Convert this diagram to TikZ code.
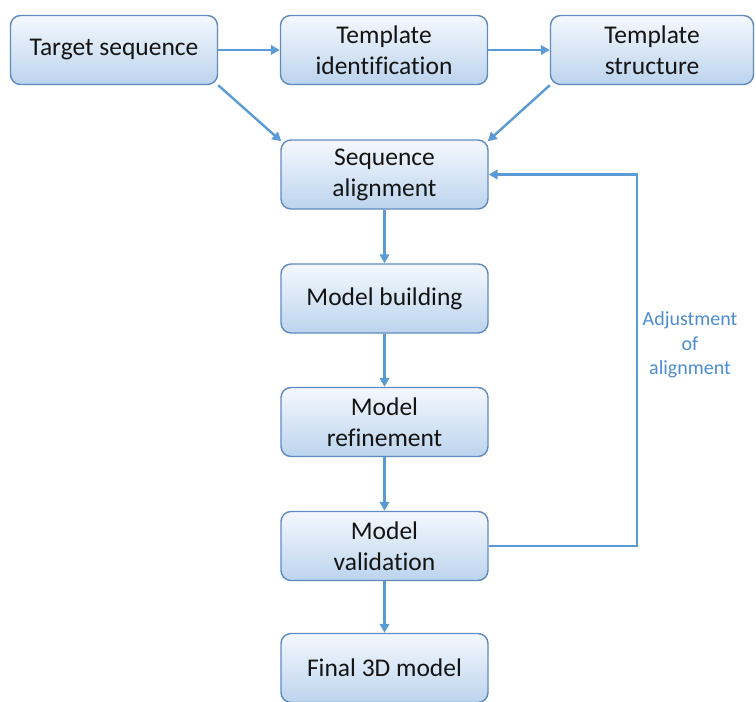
\documentclass[tikz,border=0pt]{standalone}
\usepackage{fontspec}
\setmainfont[Ligatures=CommonOff]{Carlito}
\usetikzlibrary{arrows.meta,shadings}
\definecolor{boxline}{RGB}{95,138,190}
\definecolor{arrowc}{RGB}{91,155,213}
\definecolor{labelc}{RGB}{75,140,210}
\definecolor{boxtop}{RGB}{244,248,253}
\definecolor{boxbot}{RGB}{188,212,238}
\definecolor{textc}{RGB}{20,20,20}
\tikzset{
 stepbox/.style={draw=boxline, line width=1.4pt, rounded corners=10pt,
   top color=boxtop, bottom color=boxbot, text=textc,
   minimum width=207pt, minimum height=69pt, align=center,
   font=\fontsize{25.5}{31}\selectfont, inner sep=0pt},
 flow/.style={draw=arrowc, line width=2.4pt, -{Triangle[length=9pt,width=9.5pt]}},
 adjlabel/.style={text=labelc, align=center, font=\fontsize{20}{24.5}\selectfont},
}
\begin{document}
\begin{tikzpicture}[x=1pt,y=-1pt]
\useasboundingbox (0,0) rectangle (756,702);
\node[stepbox] (ts) at (114,50) {Target sequence};
\node[stepbox] (ti) at (384,50) {Template\\identification};
\node[stepbox, minimum width=203pt] (tst) at (652,50) {Template\\structure};
\node[stepbox] (sa) at (384.5,174.5) {Sequence\\alignment};
\node[stepbox] (mb) at (384.5,298.5) {Model building};
\node[stepbox] (mr) at (384.5,422) {Model\\refinement};
\node[stepbox] (mv) at (384.5,546) {Model\\validation};
\node[stepbox] (fm) at (384.5,668) {Final 3D model};
\coordinate (fb) at (637,546);
\node[adjlabel] (adj) at (690,345) {Adjustment\\of\\alignment};
\draw[flow] (ts) -- (ti);
\draw[flow] (ti) -- (tst);
\draw[flow] (ts.south east) -- ([xshift=1pt,yshift=-2pt]sa.north west);
\draw[flow] (tst.south west) -- ([xshift=-1pt,yshift=-2pt]sa.north east);
\draw[flow] (sa) -- (mb);
\draw[flow] (mb) -- (mr);
\draw[flow] (mr) -- (mv);
\draw[flow] (mv) -- (fm);
\draw[flow] (mv.east) -- (fb) |- (sa.east);
\end{tikzpicture}
\end{document}
